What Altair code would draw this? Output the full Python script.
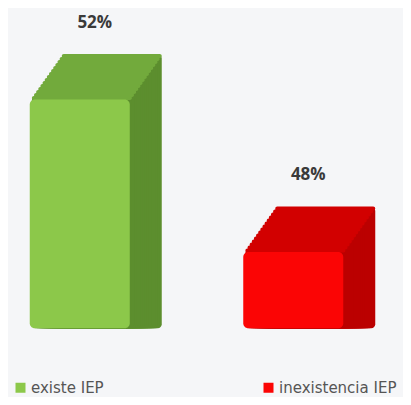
import altair as alt
import pandas as pd

categories = ["existe IEP", "inexistencia IEP"]
values = [52, 48]
labels = ["52%", "48%"]

front_colors = ["#8cc84a", "#fb0505"]
top_colors = ["#72aa3c", "#d20000"]
side_colors = ["#5c8e2e", "#bb0000"]

df = pd.DataFrame({"cat": categories, "value": values, "label": labels})

x = alt.X("cat:N", sort=categories, axis=None,
          scale=alt.Scale(range=[-35, 392], paddingInner=0, paddingOuter=0))
y = alt.Y("value:Q", axis=None, scale=alt.Scale(domain=[44.2, 54.4], zero=False, nice=False))
y2 = alt.datum(46)

is_first = alt.datum.cat == categories[0]

def pick(colors):
    return alt.condition(is_first, alt.value(colors[0]), alt.value(colors[1]))

base = alt.Chart(df)

# extrusion depth (pixels) and number of steps
DX, DY, N = 32, 45, 15
layers = []
for k in range(N, 0, -1):
    ox = DX * k / N
    oy = -DY * k / N
    step_h = DY / N
    layers.append(
        base.mark_bar(width=100, xOffset=ox, yOffset=oy, cornerRadius=4).encode(
            x=x, y=y, y2=y2, color=pick(side_colors))
    )
    layers.append(
        base.mark_tick(orient="horizontal", size=100, thickness=step_h + 1,
                       xOffset=ox, yOffset=oy + step_h / 2, cornerRadius=2).encode(
            x=x, y=y, color=pick(top_colors), opacity=alt.value(1))
    )

front = base.mark_bar(width=100, cornerRadius=5).encode(
    x=x, y=y, y2=y2,
    color=alt.Color("cat:N", sort=categories,
                    scale=alt.Scale(domain=categories, range=front_colors),
                    legend=alt.Legend(title=None, orient="none", legendX=5, legendY=372,
                                      direction="horizontal", symbolType="square",
                                      symbolSize=100, symbolStrokeWidth=0,
                                      labelFont="DejaVu Sans", labelFontSize=15,
                                      labelColor="#555555", labelOffset=3,
                                      columnPadding=157, symbolOpacity=1)),
)

text = base.mark_text(dy=-77, dx=15, font="Open Sans", fontSize=17, fontWeight="bold",
                      color="#3a3a3a", baseline="middle").encode(
    x=x, y=y, text="label:N"
)

chart = alt.layer(*layers, front, text).properties(
    width=395, height=389, background="#f5f6f8", padding=0
).configure_view(stroke=None)

chart.save("out.html", embed_options={"renderer": "svg", "actions": False})
